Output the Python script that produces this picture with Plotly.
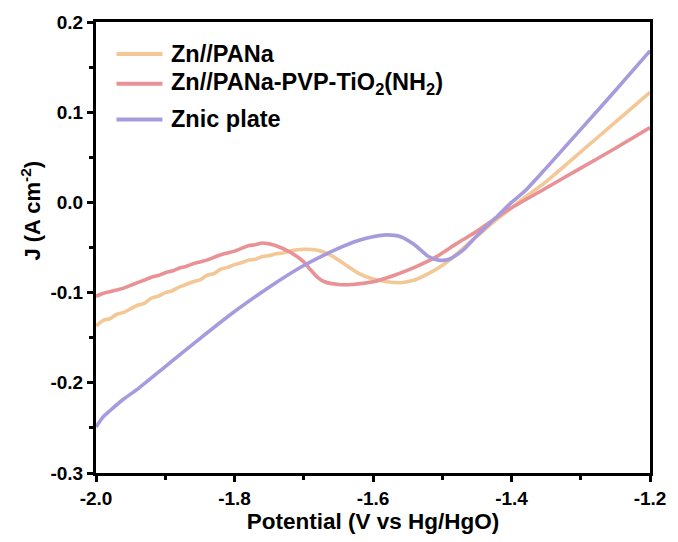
import plotly.graph_objects as go

# Zn//PANa
x_pana = [-2.00, -1.99, -1.98, -1.97, -1.96, -1.95, -1.94, -1.93, -1.92, -1.91, -1.90,
          -1.89, -1.88, -1.87, -1.86, -1.85, -1.84, -1.83, -1.82, -1.81, -1.80,
          -1.79, -1.78, -1.77, -1.76, -1.75, -1.74, -1.73, -1.72, -1.70, -1.68,
          -1.66, -1.64, -1.62, -1.60, -1.58, -1.56, -1.54, -1.52, -1.50, -1.48,
          -1.46, -1.44, -1.42, -1.40, -1.38, -1.35, -1.30, -1.25, -1.20]
y_pana = [-0.137, -0.131, -0.129, -0.124, -0.122, -0.118, -0.114, -0.112, -0.106, -0.104, -0.100,
          -0.098, -0.094, -0.091, -0.088, -0.086, -0.081, -0.079, -0.074, -0.072, -0.069,
          -0.067, -0.064, -0.063, -0.060, -0.059, -0.057, -0.056, -0.054, -0.052, -0.053,
          -0.059, -0.069, -0.079, -0.085, -0.088, -0.089, -0.086, -0.079, -0.070, -0.058,
          -0.044, -0.031, -0.018, -0.006, 0.006, 0.023, 0.056, 0.089, 0.122]

# Zn//PANa-PVP-TiO2(NH2)
x_pvp = [-2.00, -1.99, -1.98, -1.97, -1.96, -1.95, -1.94, -1.93, -1.92, -1.91, -1.90,
         -1.89, -1.88, -1.87, -1.86, -1.85, -1.84, -1.83, -1.82, -1.81, -1.80,
         -1.79, -1.78, -1.77, -1.76, -1.75, -1.74, -1.72, -1.70, -1.69, -1.68,
         -1.67, -1.65, -1.63, -1.60, -1.57, -1.54, -1.51, -1.48, -1.45, -1.42,
         -1.40, -1.35, -1.30, -1.25, -1.20]
y_pvp = [-0.104, -0.101, -0.099, -0.097, -0.095, -0.092, -0.089, -0.086, -0.083, -0.081, -0.078,
         -0.076, -0.073, -0.071, -0.068, -0.066, -0.064, -0.061, -0.058, -0.056, -0.054,
         -0.051, -0.048, -0.047, -0.045, -0.046, -0.048, -0.055, -0.066, -0.075, -0.083,
         -0.088, -0.091, -0.091, -0.088, -0.081, -0.072, -0.061, -0.046, -0.032, -0.016,
         -0.006, 0.016, 0.038, 0.060, 0.083]

# Znic plate
x_zn = [-2.00, -1.99, -1.98, -1.96, -1.94, -1.90, -1.85, -1.80, -1.75, -1.70, -1.65,
        -1.62, -1.60, -1.58, -1.56, -1.54, -1.52, -1.505, -1.49, -1.47, -1.45, -1.42,
        -1.40, -1.38, -1.35, -1.30, -1.25, -1.20]
y_zn = [-0.249, -0.238, -0.231, -0.218, -0.207, -0.182, -0.151, -0.121, -0.094, -0.070, -0.051,
        -0.042, -0.038, -0.036, -0.038, -0.047, -0.060, -0.064, -0.063, -0.053, -0.037, -0.015,
        0.000, 0.013, 0.038, 0.081, 0.124, 0.168]

x_ticks = [-2.0, -1.8, -1.6, -1.4, -1.2]
x_ticktext = ["-2.0", "-1.8", "-1.6", "-1.4", "-1.2"]
y_ticks = [-0.3, -0.2, -0.1, 0.0, 0.1, 0.2]
y_ticktext = ["-0.3", "-0.2", "-0.1", "0.0", "0.1", "0.2"]

names = ["Zn//PANa", "Zn//PANa-PVP-TiO<sub>2</sub>(NH<sub>2</sub>)", "Znic plate"]
colors = ["#F3C896", "#E89296", "#A79BDE"]

FONT = "Liberation Sans, Arial"

fig = go.Figure()
for xs, ys, nm, c in [(x_pana, y_pana, names[0], colors[0]),
                      (x_pvp, y_pvp, names[1], colors[1]),
                      (x_zn, y_zn, names[2], colors[2])]:
    fig.add_trace(go.Scatter(x=xs, y=ys, mode="lines", name=nm, showlegend=False,
                             line=dict(color=c, width=3.6, shape="spline", smoothing=0.6)))

# manual legend (paper coordinates)
leg_y = [0.929, 0.863, 0.784]
for nm, c, yy in zip(names, colors, leg_y):
    fig.add_shape(type="line", xref="paper", yref="paper", x0=0.037, x1=0.120, y0=yy, y1=yy,
                  line=dict(color=c, width=4))
    fig.add_annotation(xref="paper", yref="paper", x=0.132, y=yy, xanchor="left", yanchor="middle",
                       text=nm, showarrow=False,
                       font=dict(family=FONT, size=23.5, color="black", weight="bold"))

# y-axis title
fig.add_annotation(xref="paper", yref="paper", x=-0.118, y=0.581, xanchor="center", yanchor="middle",
                   text="J (A cm<sup>-2</sup>)", textangle=-90, showarrow=False,
                   font=dict(family=FONT, size=22, color="black", weight="bold"))

axis_common = dict(showgrid=False, zeroline=False, showline=True, linecolor="black", linewidth=3,
                   mirror=True, ticks="outside", ticklen=6, tickwidth=2.5, tickcolor="black",
                   tickfont=dict(family=FONT, size=19, color="black", weight="bold"),
                   minor=dict(ticks="outside", ticklen=4, tickwidth=2.5, tickcolor="black"))

fig.update_xaxes(range=[-2.0, -1.2], tickmode="array", tickvals=x_ticks, ticktext=x_ticktext,
                 minor_dtick=0.1,
                 title=dict(text="Potential (V vs Hg/HgO)", standoff=5,
                            font=dict(family=FONT, size=22.5, color="black", weight="bold")),
                 **axis_common)
fig.update_yaxes(range=[-0.3, 0.2], tickmode="array", tickvals=y_ticks, ticktext=y_ticktext,
                 minor_dtick=0.05, **axis_common)

fig.update_layout(
    width=678, height=542,
    margin=dict(l=96, r=24, t=22, b=69),
    plot_bgcolor="white", paper_bgcolor="white",
    showlegend=False,
)

fig.write_html("out.html")
